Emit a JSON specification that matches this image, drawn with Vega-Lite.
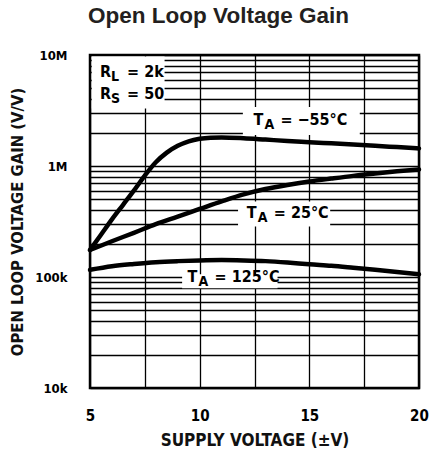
{
  "$schema": "https://vega.github.io/schema/vega-lite/v6.json",
  "width": 329,
  "height": 333,
  "autosize": {"type": "none"},
  "padding": {"left": 90, "top": 55, "right": 10, "bottom": 68},
  "background": "white",
  "title": {
    "text": "Open Loop Voltage Gain",
    "font": "Liberation Sans",
    "fontWeight": "bold",
    "fontSize": 22.5,
    "color": "#231f20",
    "anchor": "middle",
    "dx": -36,
    "offset": 22
  },
  "config": {
    "view": {"stroke": "black", "strokeWidth": 2.5},
    "axis": {
      "grid": true,
      "gridColor": "black",
      "gridWidth": 1.3,
      "gridOpacity": 1,
      "domain": false,
      "ticks": false,
      "labelFont": "'DejaVu Sans Condensed', 'Liberation Sans', sans-serif",
      "labelFontWeight": "bold",
      "labelColor": "black",
      "labelOverlap": false,
      "labelFlush": false,
      "titleFont": "'DejaVu Sans Condensed', 'Liberation Sans', sans-serif",
      "titleFontWeight": "bold",
      "titleColor": "#111"
    }
  },
  "datasets": {
    "curves": [
      {"series": "-55", "V": 5, "gain": 175000},
      {"series": "-55", "V": 5.5, "gain": 240000},
      {"series": "-55", "V": 6, "gain": 330000},
      {"series": "-55", "V": 6.5, "gain": 445000},
      {"series": "-55", "V": 7, "gain": 600000},
      {"series": "-55", "V": 7.5, "gain": 820000},
      {"series": "-55", "V": 8, "gain": 1080000},
      {"series": "-55", "V": 8.5, "gain": 1320000},
      {"series": "-55", "V": 9, "gain": 1520000},
      {"series": "-55", "V": 9.5, "gain": 1670000},
      {"series": "-55", "V": 10, "gain": 1760000},
      {"series": "-55", "V": 10.5, "gain": 1800000},
      {"series": "-55", "V": 11, "gain": 1810000},
      {"series": "-55", "V": 12, "gain": 1780000},
      {"series": "-55", "V": 13, "gain": 1730000},
      {"series": "-55", "V": 14, "gain": 1680000},
      {"series": "-55", "V": 15, "gain": 1640000},
      {"series": "-55", "V": 16, "gain": 1600000},
      {"series": "-55", "V": 17, "gain": 1560000},
      {"series": "-55", "V": 18, "gain": 1520000},
      {"series": "-55", "V": 19, "gain": 1480000},
      {"series": "-55", "V": 20, "gain": 1440000},
      {"series": "25", "V": 5, "gain": 175000},
      {"series": "25", "V": 6, "gain": 210000},
      {"series": "25", "V": 7, "gain": 250000},
      {"series": "25", "V": 8, "gain": 300000},
      {"series": "25", "V": 9, "gain": 350000},
      {"series": "25", "V": 10, "gain": 410000},
      {"series": "25", "V": 11, "gain": 480000},
      {"series": "25", "V": 12, "gain": 555000},
      {"series": "25", "V": 13, "gain": 620000},
      {"series": "25", "V": 14, "gain": 675000},
      {"series": "25", "V": 15, "gain": 725000},
      {"series": "25", "V": 16, "gain": 770000},
      {"series": "25", "V": 17, "gain": 815000},
      {"series": "25", "V": 18, "gain": 855000},
      {"series": "25", "V": 19, "gain": 895000},
      {"series": "25", "V": 20, "gain": 930000},
      {"series": "125", "V": 5, "gain": 116000},
      {"series": "125", "V": 6, "gain": 125000},
      {"series": "125", "V": 7, "gain": 131000},
      {"series": "125", "V": 8, "gain": 136000},
      {"series": "125", "V": 9, "gain": 139000},
      {"series": "125", "V": 10, "gain": 141000},
      {"series": "125", "V": 11, "gain": 142000},
      {"series": "125", "V": 12, "gain": 141000},
      {"series": "125", "V": 13, "gain": 139000},
      {"series": "125", "V": 14, "gain": 135000},
      {"series": "125", "V": 15, "gain": 130000},
      {"series": "125", "V": 16, "gain": 126000},
      {"series": "125", "V": 17, "gain": 121000},
      {"series": "125", "V": 18, "gain": 116000},
      {"series": "125", "V": 19, "gain": 111000},
      {"series": "125", "V": 20, "gain": 106000}
    ],
    "boxes": [
      {"x1": 5.08, "x2": 8.4, "y1": 9700000, "y2": 3300000},
      {"x1": 11.97, "x2": 17.3, "y1": 3400000, "y2": 1900000},
      {"x1": 11.75, "x2": 15.95, "y1": 480000, "y2": 285000},
      {"x1": 9.2, "x2": 13.55, "y1": 106000, "y2": 79000}
    ],
    "labels": [
      {"x": 5.46, "y": 7100000, "main": "R", "sub": "L", "rest": "= 2k"},
      {"x": 5.46, "y": 4450000, "main": "R", "sub": "S", "rest": "= 50"},
      {"x": 12.45, "y": 2600000, "main": "T", "sub": "A", "rest": "= −55°C"},
      {"x": 12.15, "y": 377000, "main": "T", "sub": "A", "rest": "= 25°C"},
      {"x": 9.45, "y": 99000, "main": "T", "sub": "A", "rest": "= 125°C"}
    ]
  },
  "layer": [
    {
      "data": {"name": "boxes"},
      "mark": {"type": "rect", "fill": "white", "strokeWidth": 0},
      "encoding": {
        "x": {
          "field": "x1", "type": "quantitative",
          "scale": {"domain": [5, 20], "nice": false, "zero": false},
          "axis": {
            "title": "SUPPLY VOLTAGE (±V)",
            "values": [5, 7.5, 10, 12.5, 15, 17.5, 20],
            "labelExpr": "datum.value % 5 == 0 ? format(datum.value, 'd') : ''",
            "labelFontSize": 15,
            "labelPadding": 20,
            "titlePadding": 9,
            "titleFontSize": 17
          }
        },
        "x2": {"field": "x2"},
        "y": {
          "field": "y1", "type": "quantitative",
          "scale": {"type": "log", "domain": [10000, 10000000], "nice": false},
          "axis": {
            "title": "OPEN LOOP VOLTAGE GAIN (V/V)",
            "values": [10000, 20000, 30000, 40000, 50000, 60000, 70000, 80000, 90000, 100000, 200000, 300000, 400000, 500000, 600000, 700000, 800000, 900000, 1000000, 2000000, 3000000, 4000000, 5000000, 6000000, 7000000, 8000000, 9000000, 10000000],
            "labelExpr": "datum.value == 10000 ? '10k' : datum.value == 100000 ? '100k' : datum.value == 1000000 ? '1M' : datum.value == 10000000 ? '10M' : ''",
            "labelFontSize": 13,
            "labelPadding": 23,
            "titlePadding": 9,
            "titleFontSize": 16.5
          }
        },
        "y2": {"field": "y2"}
      }
    },
    {
      "data": {"name": "curves"},
      "mark": {"type": "line", "color": "black", "strokeWidth": 4.5, "interpolate": "monotone", "strokeCap": "round"},
      "encoding": {
        "x": {"field": "V", "type": "quantitative", "title": "SUPPLY VOLTAGE (±V)"},
        "y": {"field": "gain", "type": "quantitative", "title": "OPEN LOOP VOLTAGE GAIN (V/V)"},
        "detail": {"field": "series"}
      }
    },
    {
      "data": {"name": "labels"},
      "mark": {"type": "text", "align": "left", "baseline": "middle", "font": "'DejaVu Sans Condensed', 'Liberation Sans', sans-serif", "fontWeight": "bold", "fontSize": 16, "color": "black"},
      "encoding": {
        "x": {"field": "x", "type": "quantitative", "title": "SUPPLY VOLTAGE (±V)"},
        "y": {"field": "y", "type": "quantitative", "title": "OPEN LOOP VOLTAGE GAIN (V/V)"},
        "text": {"field": "main"}
      }
    },
    {
      "data": {"name": "labels"},
      "mark": {"type": "text", "align": "left", "baseline": "middle", "font": "'DejaVu Sans Condensed', 'Liberation Sans', sans-serif", "fontWeight": "bold", "fontSize": 14, "color": "black", "dx": 11, "dy": 5},
      "encoding": {
        "x": {"field": "x", "type": "quantitative", "title": "SUPPLY VOLTAGE (±V)"},
        "y": {"field": "y", "type": "quantitative", "title": "OPEN LOOP VOLTAGE GAIN (V/V)"},
        "text": {"field": "sub"}
      }
    },
    {
      "data": {"name": "labels"},
      "mark": {"type": "text", "align": "left", "baseline": "middle", "font": "'DejaVu Sans Condensed', 'Liberation Sans', sans-serif", "fontWeight": "bold", "fontSize": 16, "color": "black", "dx": 27},
      "encoding": {
        "x": {"field": "x", "type": "quantitative", "title": "SUPPLY VOLTAGE (±V)"},
        "y": {"field": "y", "type": "quantitative", "title": "OPEN LOOP VOLTAGE GAIN (V/V)"},
        "text": {"field": "rest"}
      }
    }
  ]
}
